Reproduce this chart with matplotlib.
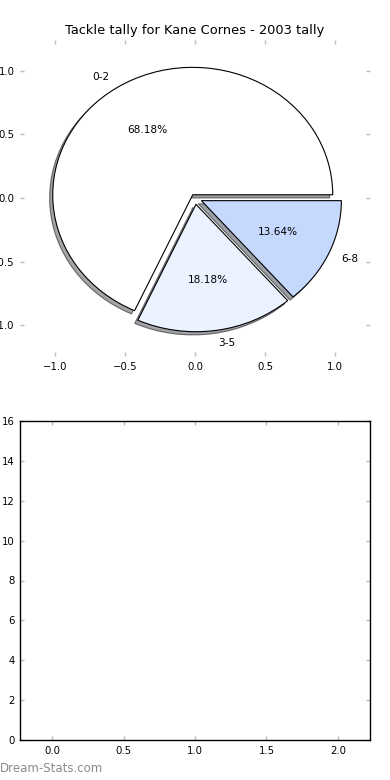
import matplotlib
matplotlib.use("Agg")
import matplotlib.pyplot as plt

labels = ["0-2", "3-5", "6-8"]
values = [15, 4, 3]
colors = ["#FFFFFF", "#EAF1FF", "#C5D9FF"]
explode = [0.03, 0.05, 0.05]
title = "Tackle tally for Kane Cornes - 2003 tally"
pie_ticks = [-1.0, -0.5, 0.0, 0.5, 1.0]
bar_xticks = [0.0, 0.5, 1.0, 1.5, 2.0]
bar_yticks = [0, 2, 4, 6, 8, 10, 12, 14, 16]

plt.rcParams["font.family"] = "DejaVu Sans"
fig = plt.figure(figsize=(3.9, 7.8), dpi=100)

tick_kw = dict(direction="in", length=3, width=1, color="#bbbbbb",
               labelsize=7.3, top=True, right=True, pad=4)

ax1 = fig.add_axes([20/390, 1-356/780, 350/390, 316/780])
wedges, texts, autotexts = ax1.pie(values, labels=labels, colors=colors,
                                   explode=explode, autopct="%1.2f%%",
                                   shadow={"ox": -0.016, "oy": -0.018,
                                           "edgecolor": "black", "linewidth": 0.8},
                                   startangle=0,
                                   wedgeprops=dict(edgecolor="black", linewidth=0.8),
                                   textprops=dict(fontsize=7.6))
ax1.set_aspect("auto")
ax1.set_frame_on(False)
ax1.set_xlim(-1.25, 1.25)
ax1.set_ylim(-1.24, 1.24)
ax1.set_xticks(pie_ticks)
ax1.set_yticks(pie_ticks)
ax1.tick_params(**tick_kw)
ax1.set_title(title, fontsize=9.4, pad=4)

ax2 = fig.add_axes([20/390, 40/780, 350/390, 319/780])
ax2.set_xlim(-0.224, 2.224)
ax2.set_ylim(0, 16)
ax2.set_xticks(bar_xticks)
ax2.set_yticks(bar_yticks)
ax2.tick_params(**tick_kw)
for s in ax2.spines.values():
    s.set_linewidth(1)
    s.set_color("black")

fig.text(0, 5/780, "Dream-Stats.com", fontsize=8.5, color="#8a8a8a",
         ha="left", va="bottom")

fig.savefig("out.png", dpi=100)
